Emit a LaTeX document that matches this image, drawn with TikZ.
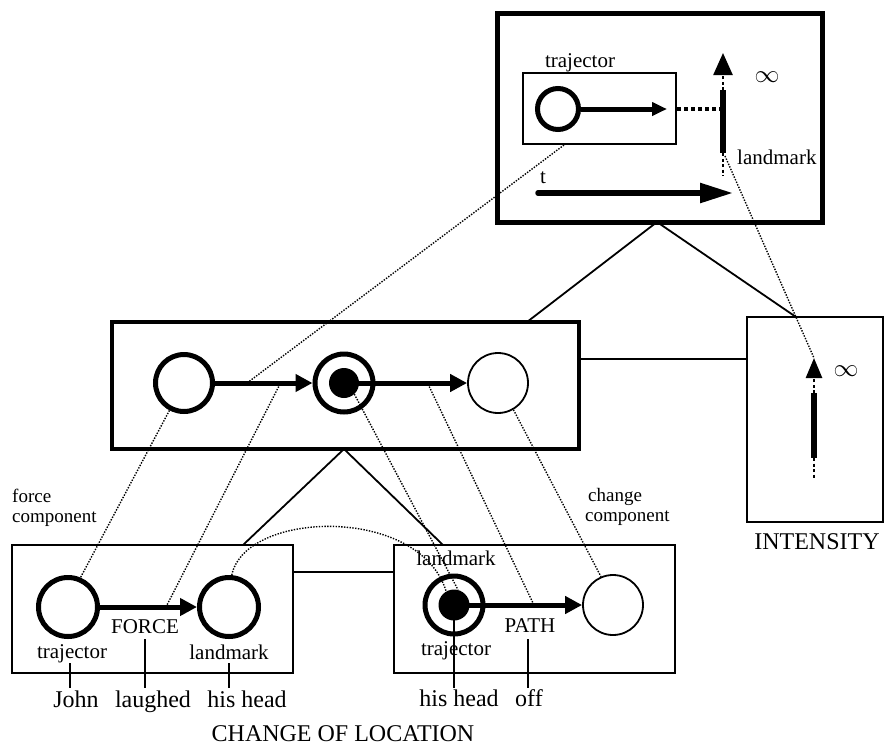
\documentclass[tikz,border=0pt]{standalone}
\usepackage{fontspec}
\setmainfont{Liberation Serif}
\usetikzlibrary{arrows.meta,calc}
\begin{document}
\begin{tikzpicture}[x=1pt,y=-1pt,
  box/.style={draw,inner sep=0pt,outer sep=0pt,anchor=north west},
  thickc/.style={circle,draw,line width=5pt,inner sep=0pt},
  thinc/.style={circle,draw,line width=1.8pt,inner sep=0pt},
  blackdot/.style={circle,fill,inner sep=0pt,minimum size=30pt},
  arr/.style={line width=5pt,-{Triangle[length=17pt,width=17pt]}},
  dots/.style={line width=1.4pt,dash pattern=on 1.4pt off 1.4pt},
  tick/.style={line width=1.5pt},
  conn/.style={line width=1.8pt},
  lab/.style={font=\fontsize{21}{24}\selectfont,inner sep=0pt,anchor=base},
  comp/.style={font=\fontsize{19}{20}\selectfont,inner sep=0pt,anchor=base west},
  infty/.style={font=\fontsize{24}{24}\selectfont,inner sep=0pt},
  big/.style={font=\fontsize{24}{28}\selectfont,inner sep=0pt,anchor=base}]
\useasboundingbox (0,0) rectangle (887,748);

% ---------- top box ----------
\node[box,line width=5pt,minimum width=325pt,minimum height=209pt] (topbox) at (497,13) {};
\node[box,line width=1.8pt,minimum width=153pt,minimum height=71pt] (trajbox) at (523,73) {};
\node[lab] (ttraj) at (580,67) {trajector};
\node[thickc,minimum size=41pt] (tc) at (558,109) {};
\coordinate (tarrend) at (667,109);
\draw[line width=5pt,-{Triangle[length=15pt,width=13pt]}] (tc.east) -- (tarrend);
\coordinate (tdotstart) at (677,109);
\coordinate (tdotend) at (720,109);
\draw[line width=4pt,dash pattern=on 4pt off 3pt] (tdotstart) -- (tdotend);
\coordinate (lmtop) at (723,53);
\coordinate (lmup) at (723,90);
\coordinate (lmlow) at (723,153);
\coordinate (lmbot) at (723,176);
\draw[line width=2.5pt,dash pattern=on 3pt off 2.5pt,-{Triangle[length=22pt,width=19pt]}] (lmup) -- (lmtop);
\draw[line width=6pt] (lmup) -- (lmlow);
\draw[line width=2.5pt,dash pattern=on 3pt off 2.5pt] (lmlow) -- (lmbot);
\node[infty] (tinf) at (767,77) {$\infty$};
\node[lab,anchor=base west] (tlm) at (737,164) {landmark};
\node[lab] (tt) at (543,183) {t};
\coordinate (tstart) at (538,193);
\coordinate (tend) at (733,193);
\draw[line width=5.5pt,line cap=round,-{Triangle[length=33pt,width=19pt]}] (tstart) -- (tend);

% ---------- middle box ----------
\node[box,line width=4pt,minimum width=467pt,minimum height=127pt] (midbox) at (112,322) {};
\node[thickc,minimum size=57pt] (mc1) at (184,383) {};
\node[thickc,minimum size=58pt] (mc2) at (344,383) {};
\node[blackdot] (mdot) at (344,383) {};
\node[thinc,minimum size=60pt] (mc3) at (498,383) {};
\draw[arr] (mc1.east) -- (mc2.west);
\draw[arr] (mdot.center) -- (mc3.west);

% ---------- intensity box ----------
\node[box,line width=1.8pt,minimum width=136pt,minimum height=205pt] (intbox) at (747,317) {};
\node[big] (intlab) at (817,549) {INTENSITY};
\coordinate (itip) at (814,358);
\coordinate (ibase) at (814,393);
\coordinate (ilow) at (814,458);
\coordinate (ibot) at (814,479);
\draw[line width=2.5pt,dash pattern=on 3pt off 2.5pt,-{Triangle[length=20pt,width=16pt]}] (ibase) -- (itip);
\draw[line width=6pt] (ibase) -- (ilow);
\draw[line width=2.5pt,dash pattern=on 3pt off 2.5pt] (ilow) -- (ibot);
\node[infty] (iinf) at (846,371) {$\infty$};

% ---------- lower left box ----------
\node[box,line width=1.8pt,minimum width=281pt,minimum height=128pt] (llbox) at (12,545) {};
\node[thickc,minimum size=59pt] (lc1) at (68,607) {};
\node[thickc,minimum size=59pt] (lc2) at (229,607) {};
\draw[arr] (lc1.east) -- (lc2.west);
\node[lab] (lforce) at (145,633) {FORCE};
\node[lab] (ltraj) at (72,658) {trajector};
\node[lab] (llm) at (229,659) {landmark};
\node[big] (john) at (76,707) {John};
\node[big] (laughed) at (153,707) {laughed};
\node[big] (hishead1) at (247,707) {his head};
\coordinate (t1a) at (70,663); \coordinate (t1b) at (70,688);
\coordinate (t2a) at (145,639); \coordinate (t2b) at (145,688);
\coordinate (t3a) at (229,663); \coordinate (t3b) at (229,688);
\draw[tick] (t1a) -- (t1b);
\draw[tick] (t2a) -- (t2b);
\draw[tick] (t3a) -- (t3b);

% ---------- lower right box ----------
\node[box,line width=1.8pt,minimum width=281pt,minimum height=128pt] (lrbox) at (394,545) {};
\node[thickc,minimum size=58pt] (rc1) at (454,605) {};
\node[blackdot,minimum size=31pt] (rdot) at (454,605) {};
\node[thinc,minimum size=60pt] (rc2) at (613,605) {};
\draw[arr] (rdot.center) -- (rc2.west);
\node[lab] (rlm) at (456,565) {landmark};
\node[lab] (rpath) at (530,632) {PATH};
\node[lab] (rtraj) at (456,655) {trajector};
\node[big] (hishead2) at (459,706) {his head};
\node[big] (off) at (529,706) {off};
\coordinate (t4a) at (454,620); \coordinate (t4b) at (454,688);
\coordinate (t5a) at (528,639); \coordinate (t5b) at (528,688);
\draw[tick] (t4a) -- (t4b);
\draw[tick] (t5a) -- (t5b);

\node[big] (col) at (343,741) {CHANGE OF LOCATION};

% ---------- component labels ----------
\node[comp] (fc1) at (12,502) {force};
\node[comp] (fc2) at (12,522) {component};
\node[comp] (cc1) at (588,501) {change};
\node[comp] (cc2) at (585,521) {component};

% ---------- solid connectors ----------
\coordinate (topapex) at (657,222);
\coordinate (midtop) at (527,322);
\coordinate (inttop) at (796,317);
\draw[conn] (midtop) -- (topapex) -- (inttop);
\coordinate (midright) at (579,359);
\coordinate (intleft) at (747,359);
\draw[conn] (midright) -- (intleft);
\coordinate (midapex) at (344,449);
\coordinate (lltop) at (243,545);
\coordinate (lrtop) at (443,545);
\draw[conn] (lltop) -- (midapex) -- (lrtop);
\coordinate (llright) at (293,572);
\coordinate (lrleft) at (394,572);
\draw[conn] (llright) -- (lrleft);

% ---------- dotted correspondences ----------
\coordinate (trajfoot) at (564,145);
\coordinate (marr1) at (247,383);
\draw[dots] (trajfoot) -- (marr1);
\coordinate (lmfoot) at (725,156);
\draw[dots] (lmfoot) -- (itip);
\draw[dots] (mc1.242) -- (lc1.67);
\coordinate (marr1b) at (280,384);
\coordinate (larr) at (167,605);
\draw[dots] (marr1b) -- (larr);
\draw[dots] (mdot.-47) -- (rdot.75);
\draw[dots] (lc2.85) .. controls (245,510) and (420,505) .. (rdot.120);
\coordinate (marr2) at (428,384);
\coordinate (rarr) at (533,603);
\draw[dots] (marr2) -- (rarr);
\draw[dots] (mc3.-60) -- (rc2.113);
\end{tikzpicture}
\end{document}
